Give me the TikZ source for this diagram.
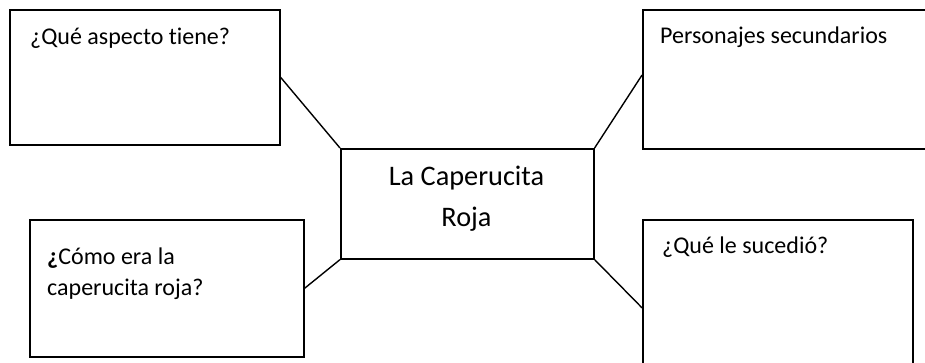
\documentclass[tikz,border=0pt]{standalone}
\usepackage{fontspec}
\setmainfont{Carlito}[Ligatures=NoCommon]
\usetikzlibrary{calc}
\begin{document}
\begin{tikzpicture}[x=1pt,y=-1pt,
  box/.style={draw=black,line width=1.6pt,rectangle,inner sep=0pt,anchor=north west},
  conn/.style={draw=black,line width=1.4pt},
  qtext/.style={anchor=base west,inner sep=0pt,font=\fontsize{24}{31}\selectfont,align=left},
  ctext/.style={inner sep=0pt,font=\fontsize{28.3}{41}\selectfont,align=center}]
\useasboundingbox (0,0) rectangle (925,362);
\node[box,minimum width=270pt,minimum height=135pt] (tl) at (9,9) {};
\node[box,minimum width=300pt,minimum height=139pt] (tr) at (642,9) {};
\node[box,minimum width=274pt,minimum height=137pt] (bl) at (29,219) {};
\node[box,minimum width=270pt,minimum height=176pt] (br) at (642,219) {};
\node[box,minimum width=253pt,minimum height=110pt] (c) at (340,148) {};
\node[qtext] (tlt) at (30,44) {¿Qué aspecto tiene?};
\node[qtext] (trt) at (660,43) {Personajes secundarios};
\node[qtext] (blt) at (47,295) {{\bfseries ¿}Cómo era la\\caperucita roja?};
\node[qtext] (brt) at (662,253) {¿Qué le sucedió?};
\node[ctext,anchor=base] (ct) at (466.5,226) {La Caperucita\\Roja};
\draw[conn] (tl.east) -- (c.north west);
\draw[conn] ($(tr.north west)!0.47!(tr.south west)$) -- (c.north east);
\draw[conn] (bl.east) -- (c.south west);
\draw[conn] (br.west) -- (c.south east);
\end{tikzpicture}
\end{document}
